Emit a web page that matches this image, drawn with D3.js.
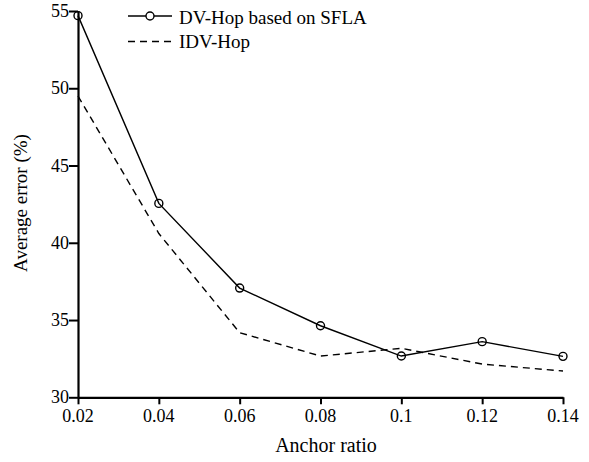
<!DOCTYPE html>
<html><head><meta charset="utf-8">
<script src="https://cdn.jsdelivr.net/npm/d3@7"></script>
</head><body>
<svg id="c" width="589" height="462"></svg>
<script>
const ratios = [0.02, 0.04, 0.06, 0.08, 0.1, 0.12, 0.14];
const sflaValues = [54.7, 42.55, 37.07, 34.63, 32.67, 33.6, 32.65];
const idvValues = [49.5, 40.6, 34.18, 32.67, 33.17, 32.15, 31.7];
const xTicks = [0.02, 0.04, 0.06, 0.08, 0.1, 0.12, 0.14];
const yTicks = [30, 35, 40, 45, 50, 55];
const seriesNames = ["DV-Hop based on SFLA", "IDV-Hop"];
const FONT = "Liberation Serif";

d3.select("body").style("margin", "0px");
d3.select("#c").style("display", "block");
const svg = d3.select("#c");
const x = d3.scaleLinear().domain([0.02, 0.14]).range([78, 563]);
const y = d3.scaleLinear().domain([30, 55]).range([397.3, 11]);

function addText(parent, str, size) {
  return parent.append("text").attr("font-family", FONT).style("font-family", FONT)
    .attr("font-size", size).text(str);
}

// axes lines and ticks via d3 axes (labels drawn separately)
const gx = svg.append("g").attr("transform", "translate(0,397.3)")
  .call(d3.axisBottom(x).tickValues(xTicks).tickFormat("").tickSize(7).tickSizeOuter(0));
const gy = svg.append("g").attr("transform", "translate(78,0)")
  .call(d3.axisLeft(y).tickValues(yTicks).tickFormat("").tickSize(9).tickSizeOuter(0));
[gx, gy].forEach(g => {
  g.select(".domain").attr("stroke", "#000").attr("stroke-width", 2.2);
  g.selectAll(".tick line").attr("stroke", "#000").attr("stroke-width", 2);
  g.selectAll(".tick text").remove();
});
xTicks.forEach(t => {
  addText(svg, String(t), 18).attr("x", x(t)).attr("y", 421.8).attr("text-anchor", "middle");
});
yTicks.forEach(t => {
  addText(svg, String(t), 18).attr("x", 69).attr("y", y(t) + 6).attr("text-anchor", "end");
});

const line = d3.line().x((d, i) => x(ratios[i])).y(d => y(d));
svg.append("path").datum(idvValues).attr("d", line).attr("fill", "none")
  .attr("stroke", "#000").attr("stroke-width", 1.4).attr("stroke-dasharray", "7,5");
svg.append("path").datum(sflaValues).attr("d", line).attr("fill", "none")
  .attr("stroke", "#000").attr("stroke-width", 1.4);
svg.selectAll("circle.m").data(sflaValues).join("circle").attr("class", "m")
  .attr("cx", (d, i) => x(ratios[i])).attr("cy", d => y(d)).attr("r", 4)
  .attr("fill", "none").attr("stroke", "#000").attr("stroke-width", 1.4);

// legend
svg.append("line").attr("x1", 128).attr("x2", 172).attr("y1", 16).attr("y2", 16).attr("stroke", "#000").attr("stroke-width", 1.6);
svg.append("circle").attr("cx", 150).attr("cy", 16).attr("r", 4).attr("fill", "#fff").attr("stroke", "#000").attr("stroke-width", 1.4);
addText(svg, seriesNames[0], 19).attr("x", 179).attr("y", 24);
svg.append("line").attr("x1", 128).attr("x2", 172).attr("y1", 41.5).attr("y2", 41.5).attr("stroke", "#000").attr("stroke-width", 1.6).attr("stroke-dasharray", "7,5");
addText(svg, seriesNames[1], 19).attr("x", 179).attr("y", 48);

addText(svg, "Anchor ratio", 20).attr("x", 326).attr("y", 452).attr("text-anchor", "middle");
addText(svg, "Average error (%)", 19).attr("transform", "translate(27,203) rotate(-90)").attr("text-anchor", "middle");
</script></body></html>
